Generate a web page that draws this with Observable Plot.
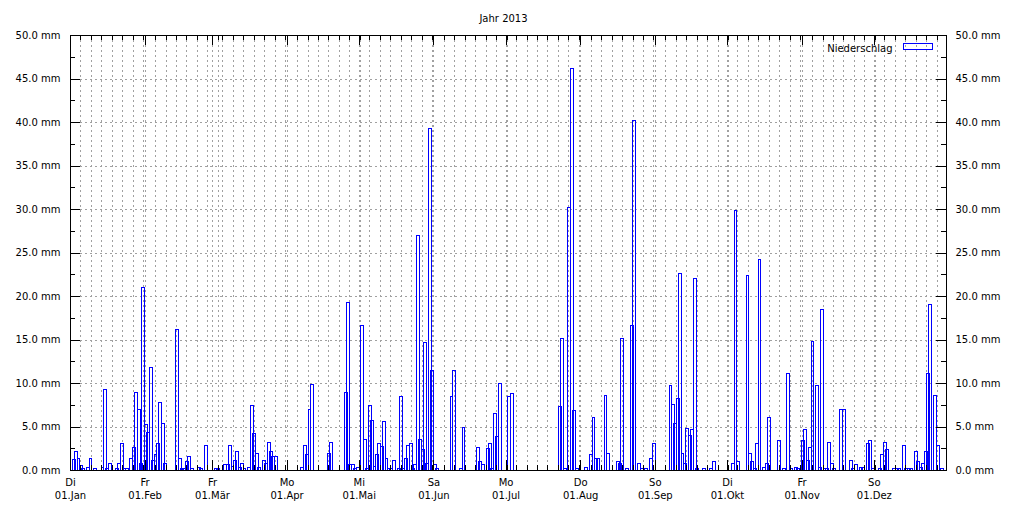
<!DOCTYPE html>
<html><head><meta charset="utf-8">
<script src="https://cdn.jsdelivr.net/npm/d3@7"></script>
<script src="https://cdn.jsdelivr.net/npm/@observablehq/plot@0.6"></script>
<style>body{margin:0;background:#fff}svg{display:block}</style>
</head><body><div id="chart"></div>
<script>
const year = 2013;
const title = "Jahr 2013";
const seriesName = "Niederschlag";
// day of year (0 = 01.Jan) and daily precipitation in mm
const rainDay = [1,2,3,4,5,7,8,10,13,14,15,16,19,20,21,22,23,25,26,27,28,29,30,31,32,33,34,35,36,37,38,39,44,45,46,47,48,49,50,53,54,56,
60,61,64,65,66,67,68,69,70,71,72,74,75,76,77,78,80,81,82,83,84,85,
96,97,98,99,100,107,108,114,115,116,117,118,119,
121,122,123,124,125,126,127,128,129,130,131,132,133,134,136,137,138,139,140,141,142,143,144,145,146,147,148,149,150,151,152,
158,159,162,163,169,170,171,173,174,175,176,177,178,182,183,
203,204,205,207,208,209,210,214,216,217,218,219,222,223,227,228,229,231,233,234,236,237,239,241,242,
249,250,251,252,253,254,255,256,257,258,259,260,263,266,267,275,276,277,281,282,283,284,285,286,288,289,290,294,296,298,
299,301,302,304,305,306,307,308,310,311,312,313,314,315,316,317,320,321,324,325,326,328,329,331,332,333,336,337,338,339,342,343,344,346,347,348,349,351,352,353,354,355,356,357,359,360,362];
const rainMM = [1.15,2.1,1.3,0.5,0.2,0.3,1.3,0.2,0.3,9.2,0.2,0.8,0.2,0.8,3.0,0.2,0.2,1.3,2.6,8.9,7.0,0.8,21.0,5.2,4.3,11.8,1.1,1.8,3.0,7.8,5.4,0.8,16.2,1.3,0.2,0.2,1.0,1.5,0.2,0.3,0.2,2.8,
0.2,0.2,0.6,0.6,2.8,0.4,1.1,2.1,0.3,0.8,0.2,0.3,7.4,4.2,1.9,0.3,1.1,0.7,3.2,2.1,1.6,1.6,
0.3,2.8,1.8,7.0,9.8,1.9,3.2,8.9,19.2,0.6,0.6,0.2,0.3,
16.6,3.5,0.2,7.4,5.7,0.4,1.8,3.0,2.7,5.6,1.3,0.2,0.2,1.1,0.2,8.4,0.2,1.3,2.8,3.0,0.2,0.6,27.0,3.5,2.4,14.6,0.8,39.2,11.4,0.6,0.2,
8.4,11.4,0.2,4.9,2.6,1.0,0.6,2.5,3.0,0.2,6.5,3.8,10.0,8.4,8.8,
7.3,15.1,0.2,30.2,46.2,6.8,0.2,0.3,1.8,6.0,1.3,1.3,8.6,1.9,1.0,0.8,15.1,0.2,16.6,40.2,0.8,0.2,0.2,1.3,3.0,
9.7,7.5,5.4,8.2,22.6,1.9,0.8,4.8,4.0,4.6,22.0,0.2,0.2,0.2,1.0,0.8,29.8,1.0,22.4,1.9,1.0,0.2,3.0,24.2,0.3,0.8,6.0,3.4,0.2,11.1,
0.2,0.3,0.2,3.4,4.6,1.1,2.6,14.8,9.7,0.3,18.4,0.2,0.2,3.2,0.8,0.2,7.0,7.0,1.1,0.2,0.6,0.3,0.3,3.0,3.4,0.2,0.2,1.8,3.2,2.4,0.2,0.2,0.2,2.8,0.2,0.2,0.2,2.1,1.0,0.3,0.8,2.1,11.1,19.0,8.6,2.8,0.2];
const monthNames = ["Jan","Feb","Mär","Apr","Mai","Jun","Jul","Aug","Sep","Okt","Nov","Dez"];
const monthWeekday = ["Di","Fr","Fr","Mo","Mi","Sa","Mo","Do","So","Di","Fr","So"];
const yTicks = [0,5,10,15,20,25,30,35,40,45,50];
const yMinor = [2.5,7.5,12.5,17.5,22.5,27.5,32.5,37.5,42.5,47.5];
const yGrid = [5,10,15,20,25,30,35,40,45];

const DAY = 864e5;
const start = Date.UTC(year, 0, 1);
const xEnd = new Date(Date.UTC(year, 11, 31));
const data = rainDay.map((d, i) => ({t0: new Date(start + d * DAY), t1: new Date(start + (d + 1) * DAY), v: rainMM[i]}));
const monthStarts = monthNames.map((_, i) => new Date(Date.UTC(year, i, 1)));
const minorStep = 30.4375 / 7 * DAY;
const minor = [];
monthStarts.forEach(m => { for (let k = 1; k <= 7; k++) { const t = +m + k * minorStep; if (t < +xEnd) minor.push(new Date(t)); } });

const W = 1015, H = 507, ML = 70, MR = 69, MT = 35, MB = 37;
const PW = W - ML - MR, PH = H - MT - MB;
const gridStyle = {stroke: "#a0a0a0", strokeDasharray: "2,3", strokeWidth: 1, shapeRendering: "crispEdges"};
const blue = "#0000ff";
const tk = {stroke: "#000", shapeRendering: "crispEdges"};

const chart = Plot.plot({
  width: W, height: H,
  marginLeft: ML, marginRight: MR, marginTop: MT, marginBottom: MB,
  style: {fontFamily: "DejaVu Sans", fontSize: "10px", color: "#000", background: "#fff"},
  x: {type: "utc", domain: [new Date(start), xEnd]},
  y: {domain: [0, 50]},
  marks: [
    Plot.ruleY(yGrid, gridStyle),
    Plot.ruleX(monthStarts.slice(1), gridStyle),
    Plot.ruleX(minor, gridStyle),
    Plot.rectY(data, {x1: "t0", x2: "t1", y: "v", fill: "none", stroke: blue, strokeWidth: 1,
      insetLeft: -0.2, insetRight: -0.3, shapeRendering: "crispEdges"}),
    Plot.frame({stroke: "#000", shapeRendering: "crispEdges"}),
    Plot.tickY(yTicks, {y: d => d, insetRight: PW - 10, ...tk}),
    Plot.tickY(yTicks, {y: d => d, insetLeft: PW - 10, ...tk}),
    Plot.tickY(yMinor, {y: d => d, insetRight: PW - 5, ...tk}),
    Plot.tickY(yMinor, {y: d => d, insetLeft: PW - 5, ...tk}),
    Plot.tickX(monthStarts, {x: d => d, insetTop: PH - 10, ...tk}),
    Plot.tickX(monthStarts, {x: d => d, insetBottom: PH - 10, ...tk}),
    Plot.tickX(minor, {x: d => d, insetTop: PH - 5, ...tk}),
    Plot.tickX(minor, {x: d => d, insetBottom: PH - 5, ...tk}),
    Plot.axisY(yTicks, {anchor: "left", tickSize: 0, tickPadding: 10, label: null, tickFormat: d => d.toFixed(1) + " mm"}),
    Plot.axisY(yTicks, {anchor: "right", tickSize: 0, tickPadding: 9, label: null, tickFormat: d => d.toFixed(1) + " mm"}),
    Plot.axisX(monthStarts, {anchor: "bottom", tickSize: 0, tickPadding: 6, label: null, lineHeight: 1.3,
      tickFormat: d => monthWeekday[d.getUTCMonth()] + "\n01." + monthNames[d.getUTCMonth()]}),
    Plot.text([seriesName], {frameAnchor: "top-right", dx: -54, dy: 9, textAnchor: "end", fill: "#000"}),
    Plot.frame({stroke: blue, insetLeft: 833, insetRight: 14, insetTop: 8, insetBottom: 421, shapeRendering: "crispEdges"}),
    Plot.text([title], {frameAnchor: "top", dx: -5, dy: -21, fill: "#000"})
  ]
});
document.getElementById("chart").append(chart);
</script>
</body></html>
